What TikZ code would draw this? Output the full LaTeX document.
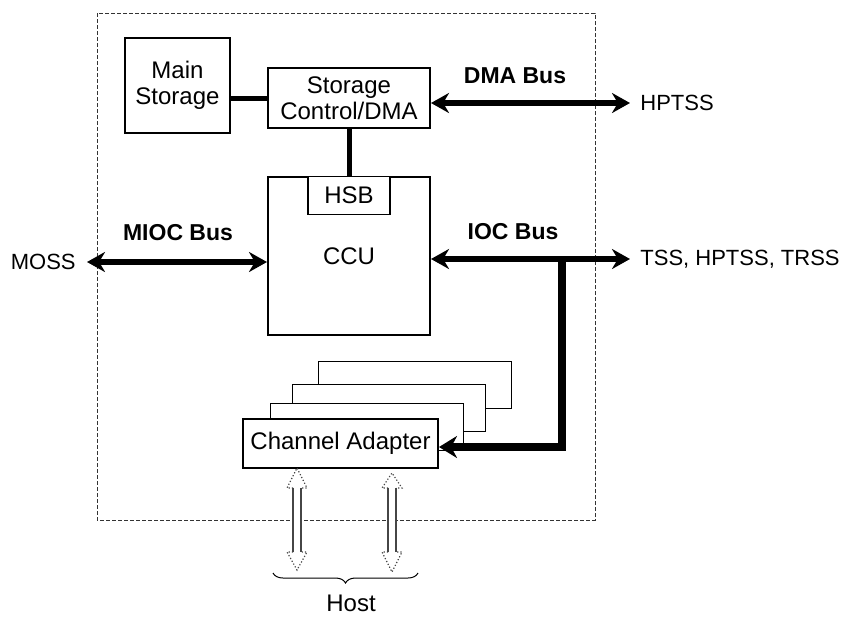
\documentclass[tikz,border=0pt]{standalone}
\usepackage{fontspec}
\setmainfont{Liberation Sans}
\usetikzlibrary{arrows.meta}
\usetikzlibrary{decorations.pathreplacing}
\tikzset{
    blk/.style={draw,line width=1pt,fill=white,inner sep=2pt,align=center,font=\fontsize{12}{13}\selectfont},
    shadowblk/.style={draw,line width=0.5pt,fill=white,minimum width=96.5pt,minimum height=23.5pt},
    bus/.style={line width=3pt,{Stealth[length=9pt,width=10pt]}-{Stealth[length=9pt,width=10pt]}},
    link/.style={line width=2.5pt},
    feed/.style={line width=4pt,-{Stealth[length=9pt,width=11pt]}},
    buslabel/.style={font=\bfseries\fontsize{11.5}{12}\selectfont},
    extlabel/.style={inner sep=0pt,font=\fontsize{11}{12}\selectfont},
    hostline/.style={draw=gray!55!black,line width=0.6pt},
    outerframe/.style={draw=gray!40!black,line width=0.5pt,dash pattern=on 2pt off 1pt},
}
\begin{document}
\begin{tikzpicture}[x=0.5pt,y=-0.5pt]
\useasboundingbox (0,0) rectangle (845,617);
\draw[outerframe] (97,13) rectangle (595,520);
% boxes
\node[blk,minimum width=52.5pt,minimum height=47.5pt] (mainst) at (177.5,85.5) {Main\\Storage};
\node[blk,minimum width=81pt,minimum height=30pt] (sdma) at (349,98) {Storage\\Control/DMA};
\node[blk,minimum width=81pt,minimum height=79pt] (ccu) at (349,256) {CCU};
\node[blk,line width=0.7pt,minimum width=41pt,minimum height=19pt,anchor=north] (hsb) at (ccu.north) {HSB};
% channel adapters, back to front
\node[shadowblk] (ca3) at (414.5,384.5) {};
\node[shadowblk] (ca2) at (389,407.5) {};
\node[shadowblk] (ca1) at (366.5,426.5) {};
\node[blk,minimum width=97.5pt,minimum height=24.5pt] (ca) at (340.5,443.5) {Channel Adapter};
% outside ends
\node[extlabel,anchor=east] (moss) at (76,262) {MOSS};
\node[extlabel,anchor=west] (hptss) at (640,103) {HPTSS};
\node[extlabel,anchor=west] (tss) at (640,259) {TSS, HPTSS, TRSS};
\node[font=\fontsize{12}{13}\selectfont] (host) at (351,603) {Host};
% links and buses
\draw[link] (mainst.east |- sdma.west) -- (sdma.west);
\draw[link] (sdma.south) -- (ccu.north);
\draw[bus,shorten >=5pt] (sdma.east |- hptss.west) -- (hptss.west);
\draw[bus,shorten >=5pt] (ccu.east |- tss.west) -- (tss.west);
\draw[bus,shorten <=5.5pt] (moss.east) -- (ccu.west |- moss.east);
\node[buslabel] (dmalbl) at (515,76) {DMA Bus};
\node[buslabel] (ioclbl) at (513,232) {IOC Bus};
\node[buslabel] (mioclbl) at (178,233) {MIOC Bus};
\coordinate (iocbr) at (562,259);
\draw[feed] (iocbr) |- ([yshift=-1.75pt]ca.east);
% host interfaces
\foreach \hx/\htip/\btip in {297/468/570,392/473/572}{
    \fill[white] (\hx-4,488) rectangle (\hx+4,552);
    \draw[hostline] (\hx-4,488) -- (\hx-4,552) (\hx+4,488) -- (\hx+4,552);
    \draw[hostline,densely dotted] (\hx-4,488) -- (\hx-10,488) -- (\hx,\htip) -- (\hx+10,488) -- (\hx+4,488);
    \draw[hostline,densely dotted] (\hx-4,552) -- (\hx-10,552) -- (\hx,\btip) -- (\hx+10,552) -- (\hx+4,552);
}
\draw[line width=0.5pt,decorate,decoration={brace,mirror,amplitude=5pt}] (273,573) -- (418,573);
\end{tikzpicture}
\end{document}
